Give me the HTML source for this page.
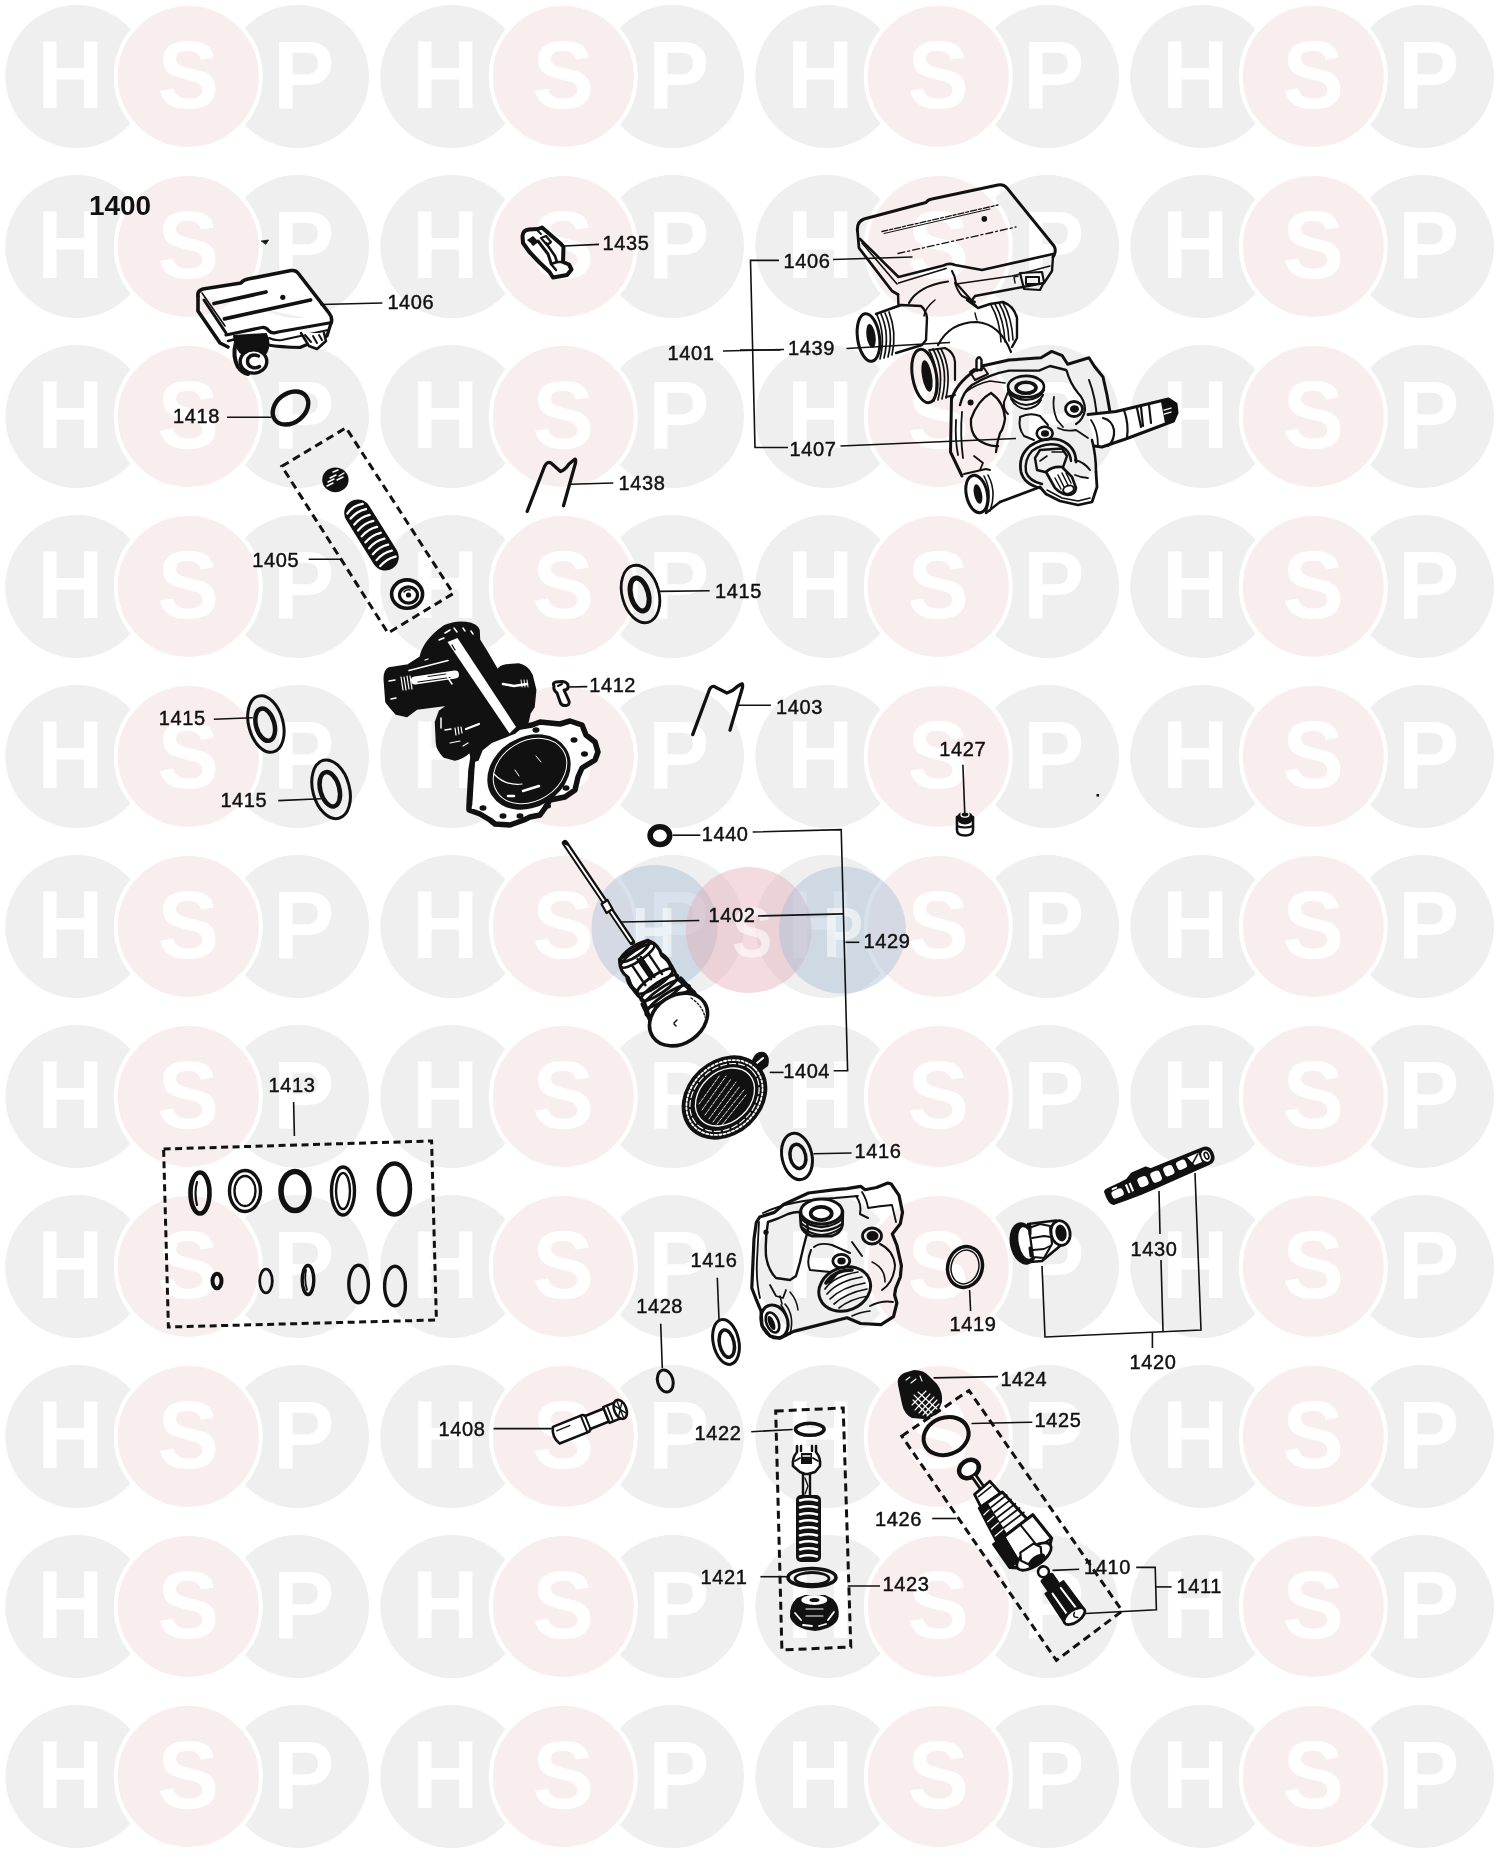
<!DOCTYPE html>
<html><head><meta charset="utf-8"><title>1400</title>
<style>
html,body{margin:0;padding:0;background:#fff;width:1500px;height:1861px;overflow:hidden}
svg{display:block}
.lab,.big{will-change:transform}
.lab{font-family:"Liberation Sans",sans-serif;font-size:20px;letter-spacing:0.6px;fill:#111;stroke:#111;stroke-width:0.45px}
.wm{font-family:"Liberation Sans",sans-serif;font-weight:bold;font-size:97px;fill:#fff}
</style></head>
<body>
<svg width="1500" height="1861" viewBox="0 0 1500 1861">
<defs>
<pattern id="wm" x="0" y="0" width="375" height="170" patternUnits="userSpaceOnUse">
<circle cx="76.8" cy="76.5" r="71.5" fill="#efefef"/>
<circle cx="297.5" cy="76.5" r="71.5" fill="#efefef"/>
<circle cx="188.3" cy="76.5" r="72.5" fill="#f9eeee" stroke="#fff" stroke-width="4"/>
<g class="wm" transform="scale(0.95,1)">
<text x="39.05" y="107.8">H</text>
<text x="165.68" y="107.8">S</text>
<text x="287.47" y="107.8">P</text>
</g>
</pattern>
</defs>
<rect width="1500" height="1861" fill="#fff"/>
<rect width="1500" height="1861" fill="url(#wm)"/>
<g id="logo">
<circle cx="654.5" cy="928" r="63" fill="#a9bfd8" fill-opacity="0.45"/>
<circle cx="748.7" cy="930" r="63" fill="#e2aab4" fill-opacity="0.42"/>
<circle cx="842.5" cy="930" r="63.5" fill="#a9bfd8" fill-opacity="0.45"/>
<g font-family="Liberation Sans, sans-serif" font-weight="bold" font-size="70" fill="#fff" fill-opacity="0.55" transform="scale(0.86,1)">
<text x="734.9" y="957">H</text>
<text x="851.2" y="957">S</text>
<text x="957.0" y="957">P</text>
</g>
</g>
<g id="parts" fill="none" stroke="#111" stroke-width="2.5" stroke-linejoin="round" stroke-linecap="round">
<!-- 1418 ring -->
<ellipse cx="290.5" cy="408" rx="19.5" ry="14.5" transform="rotate(-38 290.5 408)" stroke-width="4.4"/>
<!-- 1405 dashed box -->
<polygon points="281.8,466.3 346,427.8 453.3,593.5 388,633" stroke-width="3" stroke-dasharray="8 5" stroke-linecap="butt" stroke-linejoin="miter"/>
<!-- 1415 middle washer -->
<ellipse cx="640.5" cy="594" rx="18.4" ry="29.3" transform="rotate(-15 640.5 594)" stroke-width="2.8"/>
<ellipse cx="639.6" cy="594.5" rx="8.8" ry="16.8" transform="rotate(-15 639.6 594.5)" stroke-width="5"/>
<!-- 1415 L1 -->
<ellipse cx="265.9" cy="724" rx="17.2" ry="28.9" transform="rotate(-15 265.9 724)" stroke-width="3"/>
<ellipse cx="265.2" cy="724.7" rx="9.2" ry="16.5" transform="rotate(-15 265.2 724.7)" stroke-width="4.5"/>
<!-- 1415 L2 -->
<ellipse cx="331.1" cy="789.3" rx="18.3" ry="30" transform="rotate(-15 331.1 789.3)" stroke-width="3"/>
<ellipse cx="329.8" cy="789.3" rx="9.5" ry="17.6" transform="rotate(-15 329.8 789.3)" stroke-width="4.5"/>
<!-- 1440 o-ring -->
<ellipse cx="659.9" cy="835.6" rx="9.8" ry="8.9" stroke-width="5.6"/>
<!-- 1438 wire clip -->
<path d="M527.2,511.4 L544.5,466.5 Q547,461 551,463 L560.5,471.5 Q565,470 569,464 L574.5,459.5 Q576,458 575.5,463 L563.5,505.7" stroke-width="3.3"/>
<!-- 1403 wire clip -->
<path d="M692.7,734.6 L709.5,689.5 Q712,684.5 716,687.5 L727,693 Q733,691 738,686 L741.4,684 Q743,683 742.5,687.5 L730,730.1" stroke-width="3.3"/>
<!-- 1416 upper washer -->
<ellipse cx="797" cy="1156.4" rx="15" ry="23.5" transform="rotate(-12 797 1156.4)" stroke-width="3"/>
<ellipse cx="797.9" cy="1156.4" rx="7.8" ry="12.2" transform="rotate(-12 797.9 1156.4)" stroke-width="3.5"/>
<!-- 1416 lower washer -->
<ellipse cx="726" cy="1341.9" rx="12.8" ry="22.8" transform="rotate(-12 726 1341.9)" stroke-width="3"/>
<ellipse cx="726.8" cy="1343.6" rx="7.3" ry="13.9" transform="rotate(-12 726.8 1343.6)" stroke-width="3.5"/>
<!-- 1419 ring -->
<ellipse cx="965" cy="1267" rx="16" ry="19.3" transform="rotate(15 965 1267)" stroke-width="6"/>
<ellipse cx="965" cy="1267" rx="15" ry="18.3" transform="rotate(15 965 1267)" stroke-width="1" stroke="#fff"/>
<!-- 1428 -->
<ellipse cx="665.3" cy="1381" rx="7.7" ry="11.3" transform="rotate(-15 665.3 1381)" stroke-width="3"/>
<!-- 1422 -->
<ellipse cx="809.8" cy="1429.3" rx="14.3" ry="6" stroke-width="3.6"/>
<!-- 1421 -->
<ellipse cx="812" cy="1577.5" rx="24" ry="9" stroke-width="3.6"/>
<ellipse cx="812" cy="1578.5" rx="17" ry="6" stroke-width="2.8"/>
<!-- 1425 -->
<ellipse cx="946.1" cy="1436.1" rx="23" ry="18.5" transform="rotate(-20 946.1 1436.1)" stroke-width="4"/>
<!-- dashed box 1422 group -->
<polygon points="775.7,1411 843.2,1408 850.8,1647 781.9,1650" stroke-width="3" stroke-dasharray="8 5" stroke-linecap="butt" stroke-linejoin="miter"/>
<!-- dashed box 1426 group -->
<polygon points="901.8,1436.1 969,1390.5 1122.2,1611 1056.4,1660.4" stroke-width="3" stroke-dasharray="8 5" stroke-linecap="butt" stroke-linejoin="miter"/>
<!-- 1413 box -->
<polygon points="163.6,1149 431.6,1141 436.4,1320 168.4,1327" stroke-width="3" stroke-dasharray="7 4.5" stroke-linecap="butt" stroke-linejoin="miter"/>
<g>
<ellipse cx="200" cy="1193" rx="9.5" ry="20.5" stroke-width="4.6"/>
<path d="M197,1182 Q194,1193 197,1205" stroke-width="2.2"/>
<ellipse cx="245" cy="1191" rx="15.5" ry="20.5" stroke-width="3.4"/>
<ellipse cx="245" cy="1191" rx="10.5" ry="15" stroke-width="2.4"/>
<ellipse cx="295" cy="1191" rx="14" ry="19.5" stroke-width="5.6"/>
<ellipse cx="343" cy="1191" rx="11.5" ry="24" stroke-width="3.4"/>
<ellipse cx="343" cy="1191" rx="7" ry="18" stroke-width="2.4"/>
<ellipse cx="394.4" cy="1189" rx="15.5" ry="25.5" stroke-width="4.6"/>
<ellipse cx="217" cy="1281" rx="4.5" ry="7.2" stroke-width="4"/>
<ellipse cx="266" cy="1281" rx="6.3" ry="11.8" stroke-width="2.8"/>
<ellipse cx="308" cy="1280" rx="5.8" ry="14.5" stroke-width="3.4"/>
<path d="M306,1270 Q304,1280 307,1290" stroke-width="1.8"/>
<ellipse cx="358.6" cy="1284" rx="9.8" ry="18.8" stroke-width="3.4"/>
<ellipse cx="395" cy="1286" rx="10.4" ry="19.8" stroke-width="3.4"/>
</g>
<!-- 1406 TL box -->
<g id="p1406tl">
<path d="M198,296 Q197,291 203,289 L241,283 Q243,280 248,279 L291,270.5 Q296,270 298,273 L329,313 Q333,318 331,323" stroke-width="3.6" fill="#fff"/>
<path d="M198,296 L198,311 L220,343 L228,347" stroke-width="3.6"/>
<path d="M204,300 L226,333" stroke-width="3"/>
<path d="M202,293 L225,326" stroke-width="1.6"/>
<path d="M226,335 L262,327.5 Q266,327 269,331 Q272,334 278,332 L329,323" stroke-width="3.2"/>
<path d="M228,341 L236,339" stroke-width="2.5"/>
<path d="M268,345 Q280,347 300,347.5 L327,336 L331,323" stroke-width="3.2"/>
<path d="M269,338 Q275,341 282,340 L328,330" stroke-width="2"/>
<!-- bars -->
<path d="M214,303.5 L266,292" stroke-width="3.8"/>
<path d="M224.5,318.8 L310.5,300" stroke-width="3.8"/>
<circle cx="282.8" cy="297.3" r="2.6" fill="#111" stroke="none"/>
<!-- fitting -->
<path d="M234,336 L266,334 Q271,344 266,353 L244,355 Q235,350 234,336 Z" fill="#111" stroke-width="2"/>
<path d="M236,342 Q232,356 238,367 Q242,373 248,374" stroke-width="4"/>
<ellipse cx="253.5" cy="361.5" rx="13.3" ry="11.6" fill="#fff" stroke-width="3.4"/>
<path d="M258.5,356 Q251.5,353 248,358.5 Q246,365.5 252.5,367.5 Q256.5,368.5 259.5,366.5" stroke-width="3.4"/>
<!-- connector -->
<path d="M301,333 L309,346 L317,349 L326,341 L324,333" stroke-width="2.5" fill="#fff"/>
<path d="M305,335 L311,342 M313,336 L317,343 M319,335 L322,340" stroke-width="2"/>
</g>
<!-- 1405 contents -->
<g id="p1405">
<ellipse cx="335.4" cy="479.8" rx="13.2" ry="12.4" fill="#111" stroke="none"/>
<path d="M327,486 L333,483 M328,482 L334,479 M330,478 L336,475 M337,480 L343,477 M339,476 L344,473 M333,472 L338,470" stroke="#fff" stroke-width="1.4"/>
<g transform="translate(371.5 535) rotate(58)">
<rect x="-39.5" y="-13.5" width="79" height="27" rx="13.5" fill="#111" stroke="none"/>
<path d="M-31,-9 Q-35,0 -31,9 M-25,-9 Q-28,0 -25,9 M-18,-9 Q-21,0 -18,9 M-11,-9 Q-14,0 -11,9 M-4,-9 Q-7,0 -4,9 M3,-9 Q0,0 3,9 M10,-9 Q7,0 10,9 M17,-9 Q14,0 17,9 M24,-9 Q21,0 24,9 M31,-9 Q28,0 31,9" stroke="#fff" stroke-width="2.3"/>
</g>
<ellipse cx="407.1" cy="594.1" rx="15.5" ry="14.2" stroke-width="3.6" fill="#fff"/>
<ellipse cx="408.5" cy="595" rx="9" ry="8.2" stroke-width="3.2"/>
<circle cx="408.5" cy="595" r="2.6" fill="#111" stroke="none"/>
<path d="M404,592 Q406,589 410,590" stroke-width="1.5"/>
</g>
<!-- 1435 clip -->
<g id="p1435">
<path d="M522.5,236 Q523,230 529,229.5 L538,229 L542,227.5 L561,244 L563.5,247 L563,262 L569,264.5 L571.5,269.5 L567,275 L553,277.5 L549.5,272 L539,262 L529.5,252 L523,243 Z" fill="#fff" stroke-width="4"/>
<path d="M527,240 L533,236 L537,240 L534,246 Z" fill="#111" stroke="none"/>
<path d="M533,244 L538,241 L548,254 L551,263" stroke-width="3"/>
<path d="M541,238 L546,236 L551,242 L547,245 Z" stroke-width="2.2"/>
<path d="M546,243 L555,256 L557,262 L551,264" stroke-width="2.6"/>
<path d="M551,264 L556,270 M556,262 L563,262" stroke-width="2.4"/>
<path d="M537,230 L541,234" stroke-width="2"/>
</g>>
<!-- 1412 screw -->
<g id="p1412">
<path d="M554,686 Q552,683 556,682 L562,681.5 Q567,682 568,685 L568,688 Q567,690 564,690 L569,701 Q570,705 566,705.5 Q562,706 560.5,703 L557,693 Q553,690 554,686 Z" fill="#fff" stroke-width="3"/>
<path d="M558,686 L562,684" stroke-width="2"/>
</g>
<!-- 1427 plug -->
<g id="p1427">
<path d="M957,817 L957,830 Q957,835.5 965,835.5 Q973,835.5 973,830 L973,817" fill="#fff" stroke-width="2.6"/>
<ellipse cx="965" cy="818" rx="8.3" ry="6.5" fill="#111" stroke="none"/>
<ellipse cx="965" cy="814.5" rx="4" ry="2.6" stroke="#fff" stroke-width="1.3"/>
<path d="M957,826 Q965,829 973,826" stroke-width="2"/>
</g>
<!-- dot -->
<rect x="1096.5" y="794" width="2.6" height="2.6" fill="#111" stroke="none"/>
<!-- stray mark near 1400 -->
<path d="M261.5,241 L268.5,240 L266,244 Z" fill="#111" stroke-width="0.8"/>
<!-- main body (left-middle) -->
<g id="pbody1">
<!-- flange -->
<path d="M469,806 L471,770 L474,752 L490,738 L520,727 L532,725 L540,722 L560,724 L570,721 L582,725 L586,735 L595,742 L598,752 L595,760 L582,768 L578,777 L575,790 L565,797 L550,800 L545,808 L540,815 L530,817 L524,820 L510,825 L495,824 L490,820 L480,814 L469,810 Z" fill="#fff" stroke-width="5.5"/>
<path d="M474,758 L471,805" stroke-width="2.5"/>
<ellipse cx="529" cy="772" rx="44" ry="35" transform="rotate(-32 529 772)" fill="#111" stroke="none"/>
<ellipse cx="530" cy="771" rx="39" ry="30" transform="rotate(-32 530 771)" stroke="#fff" stroke-width="1"/>
<path d="M494,774 Q505,786 522,784" stroke="#fff" stroke-width="1.2"/>
<path d="M536,756 L541,762 M515,770 L519,776" stroke="#fff" stroke-width="1"/>
<path d="M508,796 L514,796 M523,791 L539,786" stroke="#fff" stroke-width="2.5"/>
<g fill="#111" stroke="none">
<ellipse cx="574" cy="740" rx="3.5" ry="2.8"/>
<ellipse cx="584.5" cy="754" rx="3.5" ry="2.8"/>
<ellipse cx="566" cy="788" rx="3.5" ry="2.8"/>
<ellipse cx="483" cy="808" rx="3.5" ry="2.8"/>
<ellipse cx="503" cy="816" rx="3.5" ry="2.8"/>
<ellipse cx="520" cy="816" rx="3.5" ry="2.8"/>
<ellipse cx="536" cy="730" rx="3.5" ry="2.8"/>
<ellipse cx="548" cy="806" rx="3" ry="2.5"/>
</g>
<!-- black body silhouette -->
<path d="M420.5,656 Q424,640 444,626 Q455,621 466,622.5 Q477,624 479,630 L479.5,640 L487,652 L497.5,670 Q500,666 506,665 L518.7,664 Q528,666 532,675 L535.7,690 L534,707 L530,713 L528,722 L515,733 L505,737 L492,742 L482,750 L478,760 L472,762 L470,752 Q462,759 455,760 L444,757 Q437,750 436.5,743 L435.5,722 L439.5,711 L448,705 L417,709 L407,716.5 L396,714 Q387,704 386,702 L384.3,680 Q384,670 389,668 L408,665 L420.5,657 Z" fill="#111" stroke="#111" stroke-width="1.5"/>
<!-- white tube strip -->
<path d="M447.5,642 L457.5,638 L516,727 L509.5,733.5 Z" fill="#fff" stroke="none"/>
<path d="M452,645 L455,650" stroke-width="1.4"/>
<!-- highlights on left cylinder -->
<path d="M409,670.5 L448,660.5" stroke="#fff" stroke-width="1.6"/>
<path d="M415,680.5 L455,674.5" stroke="#fff" stroke-width="8"/>
<path d="M418,682 L450,677.5" stroke="#111" stroke-width="1.2"/>
<path d="M428,676.5 L446,674" stroke="#111" stroke-width="1"/>
<path d="M401,677 L403,690 M404,677 L406,690 M407,676 L409,689 M410,676 L412,689" stroke="#fff" stroke-width="1.2"/>
<path d="M389,681 L395,680 M391,699 L396,698" stroke="#fff" stroke-width="1.5"/>
<path d="M446,675 L452,684" stroke="#fff" stroke-width="1.5"/>
<!-- right cylinder highlight -->
<path d="M503,684 L514,686 L527,684" stroke="#fff" stroke-width="2.6"/>
<path d="M521,680 L522,687 M524,680 L525,687 M527,680 L528,687" stroke="#fff" stroke-width="1"/>
<!-- lower cylinder highlights -->
<path d="M441,718 L441,728" stroke="#fff" stroke-width="1.5"/>
<path d="M455,728 L456,735 M458,727 L459,734 M461,727 L462,733" stroke="#fff" stroke-width="1.2"/>
<path d="M466,729 L479,724" stroke="#fff" stroke-width="2.2"/>
<path d="M445,730 L451,729" stroke="#fff" stroke-width="1.5"/>
<path d="M450,743 L460,741 M463,746 L468,743" stroke="#fff" stroke-width="1.2"/>
<!-- top flange highlights -->
<path d="M445,633 L450,630 M454,628 L457,632 M463,628 L465,631 M471,631 L473,634" stroke="#fff" stroke-width="1.5"/>
<path d="M439,640 L444,638" stroke="#fff" stroke-width="1.5"/>
<path d="M425,660 L428,659" stroke="#fff" stroke-width="1.3"/>
</g>
<!-- right-top valve assembly 1401 -->
<g id="pvalve1" stroke-width="2.6">
<!-- box top -->
<path d="M857.5,231 Q856.5,222 864,219 L926,202.5 Q928,199.5 932,199 L998,185 Q1004,184 1007,188 L1054,246 Q1057,251 1053,257" stroke-width="3"/>
<path d="M857.5,231 L859,248 L892,291 L898,294.5" stroke-width="2.8"/>
<path d="M860,239 L898.5,277 L943.5,265.5 Q949,262.5 955,265 L982,270 L1053,254" stroke-width="2.6"/>
<path d="M862,243 L897,284" stroke-width="1.6"/>
<path d="M898.5,283 L946,268.5" stroke-width="1.8"/>
<path d="M952,271 Q955,276 956,283 L972,301" stroke-width="2.2"/>
<path d="M1053,257 L1052,271 L1044,283 L1012,289 L975,296 L971,301.5 L976,306" stroke-width="2.4"/>
<path d="M956,284 L1012,276 L1050,266" stroke-width="1.4"/>
<path d="M882,231.5 L998,205" stroke-width="1.3" stroke-dasharray="6 2 3 2"/>
<path d="M884,233.5 L990,209" stroke-width="1"/>
<path d="M898,253.5 L1016,227" stroke-width="1.3" stroke-dasharray="7 3 2 3"/>
<circle cx="984.3" cy="218.9" r="2.8" fill="#111" stroke="none"/>
<!-- connector -->
<path d="M1020,273 L1024,289 L1040,290 L1044,282 L1042,272 Z" stroke-width="2.2"/>
<rect x="1026" y="277" width="13" height="7" stroke-width="2"/>
<path d="M1018,276 L1014,277 L1015,283" stroke-width="1.5"/>
<!-- neck under box -->
<path d="M898,294.5 L898.5,306" stroke-width="2.4"/>
<path d="M909,303 Q918,286 948,281.5" stroke-width="2.2"/>
<path d="M955,283 Q958,292 962,296 L975,302" stroke-width="2"/>
<!-- left pipe -->
<path d="M876,314 L901,305 L921,306 Q926,310 927,318 L926,340 L922,345 L896,353" stroke-width="2.4"/>
<ellipse cx="868.5" cy="337.5" rx="11" ry="24" transform="rotate(-8 868.5 337.5)" stroke-width="3"/>
<ellipse cx="871" cy="336" rx="4.5" ry="12" transform="rotate(-8 871 336)" fill="#111" stroke="none"/>
<path d="M877,315 Q886,335 880,359 M881,314 Q890,334 884,358 M885,313 Q894,333 888,357 M889,312 Q897,332 892,355" stroke-width="1.7"/>
<!-- dome -->
<path d="M938,345 Q950,322 977,322 Q1000,324 1011,352" stroke-width="2.2"/>
<path d="M935,300 Q925,308 924,316" stroke-width="1.6"/>
<!-- back right pipe -->
<path d="M967,300 L978,308 L990,304 L1003,302 Q1014,306 1017,318 L1017,338 L1012,347" stroke-width="2.4"/>
<path d="M991,305 Q1000,320 1001,342 M995,304 Q1004,320 1005,342 M999,303 Q1008,318 1009,341 M1003,303 Q1012,318 1013,340" stroke-width="1.6"/>
<path d="M975,313 Q976,318 977,320" stroke-width="1.4"/>
<!-- middle front pipe -->
<ellipse cx="924.5" cy="376" rx="12" ry="27" transform="rotate(-10 924.5 376)" stroke-width="3"/>
<ellipse cx="927" cy="376" rx="5" ry="16" transform="rotate(-10 927 376)" fill="#111" stroke="none"/>
<path d="M929,350 Q941,372 934,401 M933,349 Q945,371 938,400 M937,349 Q949,370 942,399 M941,349 Q952,369 946,398" stroke-width="1.7"/>
<path d="M930,350 L945,348 Q954,352 955,362 L955,380" stroke-width="2.2"/>
<path d="M946,397 L955,395" stroke-width="2"/>
<!-- lower valve body -->
<path d="M952,398 Q958,380 982,366 L1009,360 L1041,357.8 L1051.7,351.4 L1062.3,355.7 L1067.7,364.2 L1089,357.8 L1094.3,366.3 L1103,377 L1107,395 L1110,412" stroke-width="3"/>
<path d="M951.5,398 L950.5,452 L962,476" stroke-width="3"/>
<path d="M960,405 Q963,392 972,385 Q990,374 1009,370.6 L1039,370.6 L1050,366 L1066,370" stroke-width="2.4"/>
<path d="M956,420 Q955,440 958,455 M962,412 Q960,435 963,458" stroke-width="1.8"/>
<path d="M966,392 Q976,384 990,381 L1005,383" stroke-width="1.6"/>
<path d="M991,393 Q978,400 971,419 Q970,432 977,439 Q988,447 998,446 M991,393 Q1004,402 1005,419 Q1003,430 1000,433 Q997,442 996,452" stroke-width="2.3"/>
<circle cx="970.6" cy="402.6" r="3" fill="#111" stroke="none"/>
<ellipse cx="1026" cy="386.6" rx="18" ry="10.7" stroke-width="2.6"/>
<ellipse cx="1026" cy="387.7" rx="10" ry="5.5" stroke-width="3.6"/>
<path d="M1008,390 Q1012,399 1026,400 Q1040,399 1044,390" stroke-width="2.2"/>
<path d="M1009,394 Q1014,404 1026,405 Q1039,404 1043,395" stroke-width="2"/>
<path d="M1011,399 Q1016,408 1026,409 Q1037,408 1041,400" stroke-width="1.8"/>
<path d="M1008,392 L1004,402 Q1003,410 1008,414" stroke-width="2"/>
<path d="M1020,417 Q1030,412 1040,416 L1048,425" stroke-width="2"/>
<path d="M1020,418 Q1018,428 1024,436 L1034,440" stroke-width="2"/>
<ellipse cx="1074" cy="409" rx="8.5" ry="7.5" stroke-width="2.8"/>
<ellipse cx="1074.5" cy="409" rx="4.5" ry="3.8" fill="#111" stroke="none"/>
<path d="M1066.6,370.6 Q1070,383 1078,393 Q1085,400 1085,410 Q1083,420 1076,424" stroke-width="2.2"/>
<path d="M1054,397 Q1052,408 1057,420 L1063,427" stroke-width="1.8"/>
<path d="M1089,380 Q1096,398 1097,420" stroke-width="2"/>
<path d="M1058,428 Q1066,432 1076,430 L1088,438" stroke-width="1.8"/>
<!-- front nut -->
<path d="M1076,462 Q1076,446 1060,440 Q1045,436 1030,446 Q1018,456 1021,472 Q1024,484 1040,488" stroke-width="2.8"/>
<path d="M1071,461 Q1070,449 1058,445 Q1044,442 1032,451 Q1024,460 1026,472 Q1029,481 1042,484" stroke-width="2.4"/>
<path d="M1035,458 L1040,450 L1062,448.5 L1067,456 L1062,470 L1045,472 L1037,470 Z" stroke-width="2.4"/>
<path d="M1052,452 L1064,452 M1040,461 L1047,456" stroke-width="1.6"/>
<path d="M1046,472 Q1052,466 1062,467 L1072,477 L1076,488 Q1075,495 1068,495 Q1061,494 1055,488 Z" fill="#fff" stroke-width="2.6"/>
<path d="M1055,478 L1061,489 M1058,475 L1064,487 M1062,473 L1068,485 M1066,473 L1071,483" stroke-width="1.5"/>
<ellipse cx="1068.5" cy="489.5" rx="5.5" ry="3.8" transform="rotate(-20 1068.5 489.5)" stroke-width="2"/>
<path d="M1040,487 L1046,494 L1060,501 L1078,505 L1092,502 L1097,487 L1096,472" stroke-width="2.8"/>
<path d="M1047,490 L1062,498 L1078,501 L1090,498" stroke-width="1.6"/>
<path d="M1075,460 Q1084,462 1090,470" stroke-width="2"/>
<path d="M1075,475 Q1082,478 1088,478" stroke-width="1.8"/>
<ellipse cx="1044.7" cy="433.3" rx="8" ry="6.5" stroke-width="2.6"/>
<ellipse cx="1045" cy="433.5" rx="4" ry="3.2" fill="#111" stroke="none"/>
<!-- shaft -->
<path d="M1088,414.5 L1116,411.5 L1168.5,399 L1176,404 L1177,413 L1173.5,421 L1127,438.5 L1102,447 L1094,446" fill="#fff" stroke-width="3"/>
<path d="M1103,418 Q1112,420 1114,430 Q1115,440 1108,446" stroke-width="2.2"/>
<path d="M1091,420 Q1098,430 1098,446" stroke-width="1.8"/>
<path d="M1124,410 Q1129,424 1127,438" stroke-width="2.2"/>
<path d="M1137,408 L1141,427 M1141,407 L1143,426 M1149,405 L1151,423" stroke-width="2.2"/>
<path d="M1161,402 L1168.5,399 L1176,404 L1177,413 L1173.5,421 L1165,423.5 Z" fill="#111" stroke="none"/>
<path d="M1164,410 L1171,408 M1164,414 L1171,412" stroke="#fff" stroke-width="1.3"/>
<path d="M1092,440 Q1096,455 1096,472" stroke-width="2.6"/>
<path d="M1040,487 L1000,502" stroke-width="2.6"/>
<!-- bottom left port -->
<ellipse cx="976.8" cy="494" rx="10.5" ry="19" transform="rotate(-12 976.8 494)" stroke-width="3"/>
<ellipse cx="978" cy="494" rx="4" ry="10" transform="rotate(-12 978 494)" fill="#111" stroke="none"/>
<path d="M984,476 Q993,493 986,512 M988,475 Q997,492 990,511" stroke-width="1.6"/>
<path d="M964,474 L986,469 L990,470" stroke-width="2"/>
<path d="M986,513 L1000,502" stroke-width="2.4"/>
<path d="M974,456 L983,463 L980,470" stroke-width="1.8"/>
<!-- top screw of lower body -->
<path d="M976.5,370 L976.5,360 Q979,354.5 981.5,360 L981.5,370 Z" fill="#fff" stroke-width="2.4"/>
<path d="M970,372 L974,369 L977,371 M981,369 L984,368 L988,374 L975,380 L970,372" stroke-width="2"/>
</g>
<!-- 1402 piston -->
<g id="p1402">
<path d="M565,843 L632,942" stroke-width="6.2"/>
<path d="M565.5,844 L631,941" stroke="#fff" stroke-width="2"/>
<path d="M564,842.5 L567,844" stroke-width="3"/>
<path d="M601.5,904 L607.5,900 L612.5,909 L606.5,913 Z" fill="#fff" stroke-width="2.2"/>

<!-- body in rotated frame: axis along direction of rod -->
<g transform="translate(656 983) rotate(-34)">
<path d="M-17,-40 Q-24,-30 -20,-20 Q-25,-5 -20,8 L-28,38 L28,38 L20,8 Q25,-5 20,-20 Q24,-30 17,-40 Z" fill="#fff" stroke-width="3.2"/>
<ellipse cx="0" cy="-38" rx="17" ry="5" stroke-width="3"/>
<ellipse cx="0" cy="-33" rx="20" ry="5.5" stroke-width="2.6"/>
<path d="M-10,-28 L-10,-4 M10,-28 L10,-4" stroke-width="2.4"/>
<path d="M-2,-30 L-2,-6 M2,-30 L2,-6" stroke-width="2.6"/>
<path d="M-2,-30 L2,-30 L2,-6 L-2,-6 Z" fill="#111" stroke="none"/>
<ellipse cx="0" cy="-2" rx="21" ry="5.5" stroke-width="3"/>
<ellipse cx="0" cy="6" rx="22" ry="5.5" stroke-width="3"/>
<ellipse cx="0" cy="13" rx="24" ry="6" stroke-width="2.8"/>
<ellipse cx="0" cy="21" rx="26" ry="6.5" stroke-width="3"/>
<ellipse cx="0" cy="29" rx="27" ry="7" stroke-width="2.6"/>
<path d="M-21,-20 Q-24,-12 -21,-4 M21,-20 Q24,-12 21,-4" stroke-width="4"/>
<path d="M-23,10 L-27,36 M23,10 L27,36" stroke-width="4"/>
</g>
<ellipse cx="678.5" cy="1019.5" rx="31" ry="24" transform="rotate(-34 678.5 1019.5)" fill="#fff" stroke-width="3.6"/>
<path d="M674,1023 L677,1020 M676,1026 L674,1024" stroke-width="1.5"/>
<path d="M691,998 Q702,1005 705,1017" stroke-width="1.3" stroke-dasharray="2 2"/>
</g>
<!-- 1404 diaphragm -->
<g id="p1404">
<path d="M752,1060 Q756,1050 764,1052 Q771,1056 768,1066 L760,1072 Z" fill="#111" stroke="none"/>
<path d="M757,1063 L763,1058" stroke="#fff" stroke-width="2"/>
<ellipse cx="724.5" cy="1097.5" rx="47" ry="37.5" transform="rotate(-43 724.5 1097.5)" fill="#111" stroke="none"/>
<ellipse cx="724.5" cy="1097.5" rx="42" ry="33" transform="rotate(-43 724.5 1097.5)" stroke="#fff" stroke-width="1.8" stroke-dasharray="2.2 2.2"/>
<ellipse cx="724.5" cy="1097.5" rx="38.5" ry="29.5" transform="rotate(-43 724.5 1097.5)" stroke="#fff" stroke-width="1.2" stroke-dasharray="6 3"/>
<ellipse cx="725" cy="1097" rx="33" ry="25" transform="rotate(-43 725 1097)" stroke="#fff" stroke-width="1.3"/>
<g stroke="#fff" stroke-width="0.9" stroke-dasharray="3 1.5">
<path d="M702,1110 L726,1076"/>
<path d="M705,1115 L731,1079"/>
<path d="M709,1119 L736,1082"/>
<path d="M713,1122 L740,1086"/>
<path d="M717,1124 L744,1090"/>
<path d="M699,1104 L720,1075"/>
<path d="M722,1125 L746,1095"/>
</g>
</g>
<!-- valve body 2 -->
<g id="pvalve2" stroke-width="2.9">
<path d="M751.8,1288 L754,1239 L756.3,1222.6 L759.7,1217 L774.5,1212.4 L783.5,1204.5 L808.5,1193 L835.7,1189.7 L847,1188.6 L860.6,1186.3 L865,1189.7 L876.5,1187.5 L887.8,1183 L891.2,1184 L899,1195.4 L902.5,1212.4 L900.3,1223.7 L892.3,1234 L896.9,1245.3 L901.4,1265.7 L900.3,1277 L895.7,1288.3 L894.6,1295 L896.9,1303 L893.5,1316.7 L881,1324.6 L860.6,1323.5 L847,1317.8 L793.7,1331.4 L780,1338.2 L770,1336 L762,1325.7 L761,1311 L756.3,1299.7 Z" stroke-width="3.2"/>
<path d="M759,1222 Q758,1240 757,1260 Q756,1282 760,1298" stroke-width="1.8"/>
<path d="M768,1222 Q778,1219 788,1214 Q800,1210 806,1214 L808,1230 Q803,1248 800,1262 L796,1276 L790,1280 L776,1278 Q768,1270 766,1256 Q765,1238 768,1222 Z" stroke-width="2.4"/>
<circle cx="766" cy="1232.2" r="2.6" fill="#111" stroke="none"/>
<path d="M763,1213 Q790,1200 835,1198 L858,1196" stroke-width="1.8"/>
<path d="M856,1196 Q862,1204 860,1214 L868,1218" stroke-width="2"/>
<path d="M862,1192 Q867,1200 868,1208 Q880,1206 892,1205 L896,1222" stroke-width="1.8"/>
<path d="M800,1212 L801,1226 Q803,1233 812,1236 L832,1236 Q841,1233 842.5,1225 L842.8,1211" stroke-width="2.8"/>
<ellipse cx="821.5" cy="1211.5" rx="20.8" ry="12.5" fill="#fff" stroke-width="3"/>
<ellipse cx="821.2" cy="1213.5" rx="10.5" ry="6.6" stroke-width="3.8"/>
<path d="M801.5,1219 Q808,1226 821.5,1227 Q835,1226 842,1219" stroke-width="2.4"/>
<path d="M802,1224 Q809,1230 821.5,1231 Q834,1230 842,1224" stroke-width="2.2"/>
<path d="M803,1228 Q810,1234 821.5,1235 Q833,1234 841,1228" stroke-width="2"/>
<ellipse cx="872" cy="1236" rx="9.5" ry="8" stroke-width="2.8"/>
<ellipse cx="872.5" cy="1236" rx="6" ry="5" fill="#111" stroke="none"/>
<ellipse cx="841.3" cy="1261.1" rx="8.5" ry="6.8" stroke-width="2.8"/>
<ellipse cx="841.5" cy="1261" rx="4.2" ry="3.4" fill="#111" stroke="none"/>
<path d="M814,1247 Q820,1242 832,1245 L850,1253" stroke-width="2"/>
<path d="M811,1250 Q806,1262 810,1270 L830,1272" stroke-width="2"/>
<path d="M852,1242 L862,1256" stroke-width="2"/>
<!-- big threaded port -->
<ellipse cx="844.7" cy="1289" rx="26.5" ry="21.5" transform="rotate(-22 844.7 1289)" stroke-width="3"/>
<path d="M826,1283 Q834,1270 852,1270" stroke-width="3.5"/>
<path d="M825,1289 Q834,1276 858,1272 M827,1294 Q838,1281 862,1277 M830,1299 Q842,1287 865,1283 M834,1304 Q846,1293 867,1289 M839,1308 Q850,1299 868,1296" stroke-width="1.7"/>
<path d="M826,1283 Q830,1276 840,1272 L830,1284 Z" fill="#111" stroke="none"/>
<!-- right lobes -->
<path d="M880,1244 Q893,1250 895,1265 Q894,1282 882,1290" stroke-width="2"/>
<path d="M872,1262 Q885,1268 885,1282" stroke-width="1.6"/>
<path d="M870,1306 Q882,1300 893,1302" stroke-width="1.8"/>
<path d="M852,1316 Q860,1312 870,1311" stroke-width="1.6"/>
<!-- left lower -->
<path d="M770,1285 L776,1296 L783,1298 L786,1290" stroke-width="1.8"/>
<path d="M780,1296 L782,1304" stroke-width="1.6"/>
<path d="M790,1292 Q797,1300 798,1310" stroke-width="1.5"/>
<!-- bottom left port -->
<ellipse cx="774.5" cy="1321.5" rx="13" ry="17" transform="rotate(-22 774.5 1321.5)" stroke-width="3"/>
<ellipse cx="772.5" cy="1322.5" rx="6" ry="10.5" transform="rotate(-22 772.5 1322.5)" stroke-width="2.6"/>
<ellipse cx="771.5" cy="1323" rx="3" ry="7.5" transform="rotate(-22 771.5 1323)" fill="#111" stroke="none"/>
<path d="M781,1305 Q791,1318 786,1336 M785,1304 Q795,1316 790,1334" stroke-width="1.6"/>
</g>
<!-- 1430 pin -->
<g id="p1430" transform="translate(1160 1175.5) rotate(-23)">
<path d="M-57,-6 Q-57,-8 -53,-8 L-40,-8.5 L-32,-9 L-25,-13 L-10,-13 L-6,-9.5 L50,-8.5 Q57,-8.5 57,0 Q57,8.5 50,8.5 L-8,9.5 L-25,9.5 L-40,9 L-54,8 Q-58,6 -57,-6 Z" fill="#111" stroke-width="2"/>
<g fill="#fff" stroke="none">
<rect x="-52" y="-4" width="12" height="8" rx="3"/>
<rect x="-50" y="-7" width="6" height="2" rx="1"/>
<rect x="-36" y="-5" width="2.2" height="9"/>
<rect x="-32" y="-5" width="2.2" height="9"/>
<rect x="-23" y="-6" width="10" height="10" rx="3"/>
<rect x="-9" y="-6" width="10" height="11" rx="3"/>
<rect x="5" y="-6" width="10" height="10" rx="3"/>
<rect x="19" y="-6" width="10" height="9" rx="3"/>
<path d="M32,-6 L44,-6 L44,4 L36,4 Z"/>
<ellipse cx="50" cy="0" rx="4.5" ry="6"/>
</g>
<path d="M33,3 L43,-5" stroke-width="1.6"/>
<ellipse cx="50.5" cy="0" rx="2" ry="3.5" fill="none" stroke-width="1.6"/>
</g>
<!-- 1420 nut -->
<g id="p1420">
<path d="M1028,1224 L1056,1220.5 L1066,1230 L1060,1246 L1042,1261 L1030,1262 Z" fill="#fff" stroke-width="2.6"/>
<ellipse cx="1023.5" cy="1243.5" rx="13.5" ry="21.5" transform="rotate(-12 1023.5 1243.5)" fill="#111" stroke="none"/>
<ellipse cx="1026" cy="1243" rx="8" ry="17" transform="rotate(-12 1026 1243)" fill="#fff" stroke="#111" stroke-width="1.8"/>
<path d="M1029,1228 L1040,1224 L1050,1226 L1052,1244 L1044,1258 L1033,1257 Z" fill="#fff" stroke-width="2.2"/>
<path d="M1032,1238 L1044,1236 L1051,1237 M1033,1250 L1044,1249 L1050,1246" stroke-width="1.8"/>
<path d="M1030,1226 L1030,1234 M1030,1248 L1031,1256" stroke-width="3"/>
<ellipse cx="1060.5" cy="1233" rx="9.5" ry="12.5" transform="rotate(-12 1060.5 1233)" fill="#fff" stroke-width="2.8"/>
<ellipse cx="1061" cy="1233" rx="5.5" ry="8.5" transform="rotate(-12 1061 1233)" fill="#111" stroke="none"/>
</g>
<!-- 1408 pin -->
<g id="p1408" transform="translate(591.5 1421) rotate(-22)">
<path d="M-38,-9 Q-43,0 -38,9 L-6,9 L-4,7 L16,7 L16,-7 L-4,-7 L-6,-9 Z" fill="#fff" stroke-width="2.6"/>
<path d="M-8,-9 L-8,9 M-4,-8 L-4,8" stroke-width="2"/>
<path d="M-36,-4 L-22,-4" stroke-width="1.4"/>
<path d="M16,-8.5 L30,-8.5 L30,8.5 L16,8.5 Z" fill="#fff" stroke-width="2.4"/>
<path d="M20,-8.5 L20,8.5" stroke-width="1.8"/>
<ellipse cx="31" cy="0" rx="6" ry="10" fill="#fff" stroke-width="2.6"/>
<path d="M27.5,-5 L34.5,5 M27.5,5 L34.5,-5 M31,-9 L31,9" stroke-width="1.4"/>
</g>
<!-- 1422 group contents (stem, spring, nut) -->
<g id="p1422g">
<path d="M797,1446 L797,1452 Q792,1458 793,1466 L800,1472 L805,1474 L808,1474 L815,1472 L820,1466 Q821,1458 816,1452 L816,1446" fill="#fff" stroke-width="2.6"/>
<path d="M801,1446 L801,1451 M812,1446 L812,1451" stroke-width="2.4"/>
<path d="M801,1453 L812,1453 L812,1464 L801,1464 Z" fill="#111" stroke="none"/>
<path d="M803,1456 L810,1456 M806,1465 L806,1471" stroke="#fff" stroke-width="1.5"/>
<path d="M795,1461 L800,1458 M818,1461 L813,1458" stroke-width="1.8"/>
<path d="M803,1474 L803,1496 M810,1474 L810,1496" stroke-width="2.4"/>
<path d="M805,1478 L808,1486 L805,1494" stroke-width="1.4"/>
<!-- spring -->
<rect x="796" y="1495" width="25" height="67" rx="5" fill="#111" stroke="none"/>
<g stroke="#fff" stroke-width="2.6">
<path d="M800,1500.5 Q808.5,1498 817,1500.5"/>
<path d="M800,1507.5 Q808.5,1505 817,1507.5"/>
<path d="M800,1514.5 Q808.5,1512 817,1514.5"/>
<path d="M800,1521.5 Q808.5,1519 817,1521.5"/>
<path d="M800,1528.5 Q808.5,1526 817,1528.5"/>
<path d="M800,1535.5 Q808.5,1533 817,1535.5"/>
<path d="M800,1542.5 Q808.5,1540 817,1542.5"/>
<path d="M800,1549.5 Q808.5,1547 817,1549.5"/>
<path d="M800,1556.5 Q808.5,1554 817,1556.5"/>
</g>
<!-- nut -->
<path d="M790,1617 Q789,1605 797,1598 L805,1595 L825,1595 L833,1599 Q840,1606 838.5,1617 Q836,1628 815,1631 Q794,1629 790,1617 Z" fill="#111" stroke="none"/>
<ellipse cx="814.3" cy="1600" rx="13" ry="5" fill="#fff" stroke="none"/>
<ellipse cx="814.5" cy="1600" rx="5" ry="2" fill="#111" stroke="none"/>
<path d="M795,1613 L801,1620 M828,1620 L834,1612 M803,1625 L812,1626 M819,1626 L826,1624" stroke="#fff" stroke-width="1.8"/>
<path d="M806,1609 L823,1609 M806,1616 L823,1616" stroke="#fff" stroke-width="1.2"/>
</g>
<!-- 1424 filter -->
<g id="p1424">
<path d="M898,1385 Q896,1377 904,1373 L914,1370 Q924,1370 929,1376 L937,1384 Q943,1392 942,1402 L938,1412 Q932,1419 923,1419 L912,1418 Q904,1414 902,1404 Z" fill="#111" stroke="none"/>
<g stroke="#fff" stroke-width="1.1">
<path d="M915,1410 L930,1394 M919,1413 L934,1397 M923,1415 L937,1400 M912,1405 L926,1391 M927,1416 L939,1404"/>
<path d="M914,1395 L932,1413 M918,1392 L937,1409 M913,1400 L928,1415"/>
<path d="M906,1380 L910,1377 M911,1383 L916,1379 M920,1376 L922,1381"/>
</g>
</g>
<!-- 1426 cartridge + 1410 -->
<g id="p1426" transform="translate(969 1469) rotate(-35)">
<ellipse cx="0" cy="0" rx="10.5" ry="8.5" fill="#fff" stroke-width="4.5"/>
<rect x="-3.5" y="7" width="7" height="22" fill="#111" stroke="none"/>
<path d="M0,9 L0,27" stroke="#fff" stroke-width="1.4"/>
<path d="M-10,24 L10,22 L12,38 L-12,38 Z" fill="#fff" stroke-width="2.8"/>
<path d="M-8,28 L8,27" stroke-width="1.6"/>
<path d="M-14,38 L14,38 L19,76 L-19,76 Z" fill="#fff" stroke-width="3"/>
<path d="M-14,38 L-4,38 L-6,76 L-19,76 Z" fill="#111" stroke="none"/>
<g stroke-width="1.8">
<path d="M-4,44 L16,43 M-4,50 L17,49 M-5,56 L18,55 M-5,62 L19,61 M-5,68 L20,67"/>
</g>
<g stroke="#fff" stroke-width="1.3">
<path d="M-14,46 L-7,45 M-15,54 L-7,53 M-16,62 L-7,61 M-17,70 L-7,69"/>
</g>
<path d="M-23,76 L26,74 L28,104 L14,116 L-8,116 L-23,104 Z" fill="#fff" stroke-width="3.2"/>
<path d="M-23,76 L-9,76 L-11,104 L-23,104 Z" fill="#111" stroke="none"/>
<path d="M-23,104 L28,104" stroke-width="2.4"/>
<path d="M-10,76 L-12,104 M10,75 L12,104" stroke-width="2"/>
<ellipse cx="3" cy="109" rx="20" ry="9" fill="#fff" stroke-width="2.8"/>
<path d="M-10,105 L-6,98 L10,98 L14,105 L10,112 L-6,112 Z" fill="#fff" stroke-width="2.2"/>
<ellipse cx="3" cy="114" rx="10" ry="5" fill="#111" stroke="none"/>
<!-- 1410 -->
<circle cx="2" cy="127" r="5.5" fill="#fff" stroke-width="2.6"/>
<rect x="-6" y="132" width="15" height="14" rx="2" fill="#111" stroke="none"/>
<path d="M-9,146 L13,146 L14,180 L-10,180 Z" fill="#111" stroke-width="2"/>
<path d="M-3,150 L-3,176 M7,150 L8,176" stroke="#fff" stroke-width="2"/>
<ellipse cx="2" cy="181" rx="12" ry="6" fill="#fff" stroke-width="2.8"/>
<path d="M4,178 Q-1,181 4,184" stroke-width="1.6"/>
</g>

</g>
<g id="leaders" fill="none" stroke="#111" stroke-width="1.6">
<polyline points="227.0,417.3 271.3,417.3"/>
<polyline points="308.7,559.2 341.3,559.2"/>
<polyline points="320.0,304.5 382.4,303.0"/>
<polyline points="564.0,246.0 599.0,244.4"/>
<polyline points="723.0,351.0 784.0,349.5"/>
<polyline points="779.0,260.4 750.5,260.4 755.0,447.5 788.0,447.5"/>
<polyline points="740.0,350.0 780.5,350.0"/>
<polyline points="833.0,259.5 912.5,257.0"/>
<polyline points="846.5,348.5 950.0,342.5"/>
<polyline points="840.5,446.0 1016.0,438.5"/>
<polyline points="570.3,484.2 613.3,483.0"/>
<polyline points="659.8,591.4 709.7,590.7"/>
<polyline points="568.0,687.0 587.3,686.6"/>
<polyline points="736.9,705.2 770.9,705.2"/>
<polyline points="213.8,719.3 252.7,717.8"/>
<polyline points="278.3,800.6 320.9,798.8"/>
<polyline points="962.9,764.8 964.8,814.4"/>
<polyline points="672.7,835.2 700.4,835.2"/>
<polyline points="752.7,832.0 841.2,829.6 847.6,1070.7 833.7,1070.7"/>
<polyline points="620.4,922.0 699.3,920.5"/>
<polyline points="758.0,916.0 843.3,913.9"/>
<polyline points="845.5,942.3 859.3,942.3"/>
<polyline points="769.7,1072.4 783.6,1072.4"/>
<polyline points="293.6,1102.0 294.4,1136.0"/>
<polyline points="813.5,1153.8 851.6,1153.0"/>
<polyline points="717.3,1277.7 719.0,1319.3"/>
<polyline points="969.6,1290.0 970.6,1311.0"/>
<polyline points="1042.0,1266.0 1045.0,1337.0 1201.0,1330.0 1195.0,1173.0"/>
<polyline points="1152.4,1333.0 1152.4,1348.0"/>
<polyline points="1159.0,1191.0 1160.0,1234.0"/>
<polyline points="1161.0,1260.0 1163.0,1331.0"/>
<polyline points="660.7,1323.7 662.3,1368.2"/>
<polyline points="493.6,1428.6 551.9,1428.6"/>
<polyline points="751.2,1431.7 792.6,1429.5"/>
<polyline points="760.4,1576.7 789.5,1576.7"/>
<polyline points="847.8,1586.0 880.0,1586.0"/>
<polyline points="933.5,1377.9 998.0,1376.6"/>
<polyline points="971.5,1423.5 1032.3,1422.2"/>
<polyline points="932.2,1518.5 956.3,1518.5"/>
<polyline points="1052.5,1570.4 1079.2,1569.2"/>
<polyline points="1136.2,1567.4 1155.2,1567.4 1156.4,1609.7 1085.5,1613.5"/>
<polyline points="1155.2,1586.9 1171.6,1586.9"/>
</g>
<g class="lab">
<text x="387.4" y="308.5">1406</text>
<text x="173.0" y="423.2">1418</text>
<text x="252.3" y="567.0">1405</text>
<text x="602.5" y="250.0">1435</text>
<text x="783.5" y="267.5">1406</text>
<text x="667.5" y="360.0">1401</text>
<text x="788.0" y="354.5">1439</text>
<text x="789.5" y="456.3">1407</text>
<text x="618.5" y="490.3">1438</text>
<text x="715.0" y="597.5">1415</text>
<text x="589.2" y="691.6">1412</text>
<text x="776.1" y="714.3">1403</text>
<text x="158.8" y="724.7">1415</text>
<text x="220.4" y="806.9">1415</text>
<text x="939.3" y="756.0">1427</text>
<text x="701.7" y="841.0">1440</text>
<text x="708.5" y="922.0">1402</text>
<text x="863.5" y="948.0">1429</text>
<text x="783.2" y="1077.7">1404</text>
<text x="268.5" y="1092.0">1413</text>
<text x="854.5" y="1158.1">1416</text>
<text x="690.6" y="1267.3">1416</text>
<text x="1130.5" y="1256.0">1430</text>
<text x="949.5" y="1331.0">1419</text>
<text x="636.2" y="1313.0">1428</text>
<text x="1129.5" y="1369.0">1420</text>
<text x="1000.4" y="1385.5">1424</text>
<text x="1034.5" y="1427.3">1425</text>
<text x="438.5" y="1435.7">1408</text>
<text x="694.5" y="1439.6">1422</text>
<text x="875.0" y="1526.0">1426</text>
<text x="1084.0" y="1574.2">1410</text>
<text x="1176.5" y="1593.2">1411</text>
<text x="700.5" y="1584.4">1421</text>
<text x="882.5" y="1590.7">1423</text>
</g>
<text class="big" x="88.9" y="214.7" font-family="Liberation Sans, sans-serif" font-weight="bold" font-size="28" fill="#111">1400</text>
</svg>
</body></html>
